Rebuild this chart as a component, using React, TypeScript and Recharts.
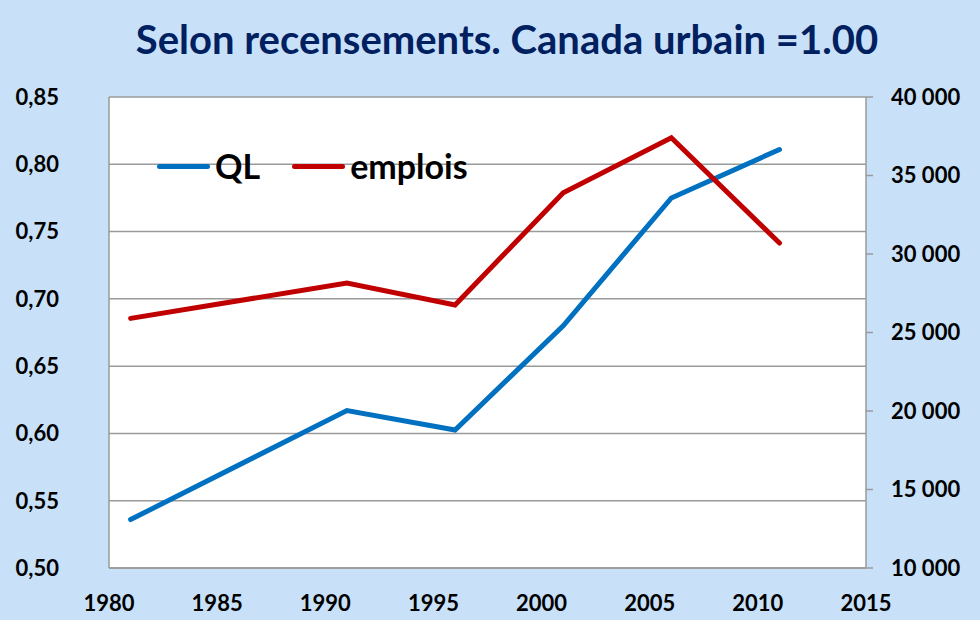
import { LineChart, Line, XAxis, YAxis, CartesianGrid, Legend } from "recharts";

const years = [1981, 1991, 1996, 2001, 2006, 2011];
const ql = [0.536, 0.617, 0.6025, 0.68, 0.775, 0.811];
const emplois = [25900, 28150, 26750, 33900, 37400, 30700];

const xTicks = [1980, 1985, 1990, 1995, 2000, 2005, 2010, 2015];
const leftTicks = [0.5, 0.55, 0.6, 0.65, 0.7, 0.75, 0.8, 0.85];
const rightTicks = [10000, 15000, 20000, 25000, 30000, 35000, 40000];

const data = years.map((year, i) => ({ year, ql: ql[i], emplois: emplois[i] }));

const FONT = "Lato, 'Open Sans', sans-serif";
const BLUE = "#0070C0";
const RED = "#C00000";
const GRID = "#9a9a9a";
const tick = { fontSize: 22, fontWeight: 700, fill: "#000", fontFamily: FONT };

const fmtLeft = (v: number) => v.toFixed(2).replace(".", ",");
const fmtRight = (v: number) => `${Math.floor(v / 1000)} ${String(v % 1000).padStart(3, "0")}`;

function LegendBox() {
  const item = (color: string, label: string, gap: number) => (
    <div style={{ display: "flex", alignItems: "center", marginRight: gap }}>
      <div style={{ width: 53, height: 5, borderRadius: 3, background: color, marginRight: 5 }} />
      <span style={{ fontFamily: FONT, fontWeight: 700, fontSize: 34, color: "#000", lineHeight: "38px" }}>{label}</span>
    </div>
  );
  return (
    <div style={{ display: "flex", alignItems: "center" }}>
      {item(BLUE, "QL", 32)}
      {item(RED, "emplois", 0)}
    </div>
  );
}

export default function App() {
  return (
    <div style={{ position: "absolute", top: 0, left: 0, width: 980, height: 620, background: "#C8E1F9", overflow: "hidden" }}>
      <div
        style={{
          position: "absolute",
          top: 15,
          left: 0,
          width: 1014,
          textAlign: "center",
          fontFamily: FONT,
          fontWeight: 700,
          fontSize: 40,
          color: "#002060",
          whiteSpace: "nowrap",
        }}
      >
        Selon recensements. Canada urbain =1.00
      </div>
      <LineChart width={980} height={620} data={data} margin={{ top: 97, right: 14, bottom: 0, left: 9 }}>
        <CartesianGrid vertical={false} stroke={GRID} strokeWidth={1.5} fill="#fff" fillOpacity={1} yAxisId="left" />
        <XAxis
          dataKey="year"
          type="number"
          domain={[1980, 2015]}
          ticks={xTicks}
          tick={tick}
          tickLine={false}
          tickSize={0}
          tickMargin={27}
          height={52}
          axisLine={{ stroke: GRID, strokeWidth: 1.5 }}
          interval={0}
        />
        <YAxis
          yAxisId="left"
          domain={[0.5, 0.85]}
          ticks={leftTicks}
          tickFormatter={fmtLeft}
          tick={tick}
          tickLine={false}
          tickSize={0}
          tickMargin={50}
          width={100}
          axisLine={{ stroke: GRID, strokeWidth: 1.5 }}
          interval={0}
        />
        <YAxis
          yAxisId="right"
          orientation="right"
          domain={[10000, 40000]}
          ticks={rightTicks}
          tickFormatter={fmtRight}
          tick={tick}
          tickLine={{ stroke: GRID, strokeWidth: 1.5 }}
          tickSize={7}
          tickMargin={18}
          width={100}
          axisLine={{ stroke: GRID, strokeWidth: 1.5 }}
          interval={0}
        />
        <Legend
          layout="horizontal"
          verticalAlign="middle"
          align="center"
          content={() => <LegendBox />}
          wrapperStyle={{ top: 147, left: 157, width: 400 }}
        />
        <Line
          yAxisId="left"
          dataKey="ql"
          name="QL"
          stroke={BLUE}
          strokeWidth={5}
          strokeLinecap="round"
          dot={false}
          isAnimationActive={false}
        />
        <Line
          yAxisId="right"
          dataKey="emplois"
          name="emplois"
          stroke={RED}
          strokeWidth={5}
          strokeLinecap="round"
          dot={false}
          isAnimationActive={false}
        />
      </LineChart>
    </div>
  );
}
